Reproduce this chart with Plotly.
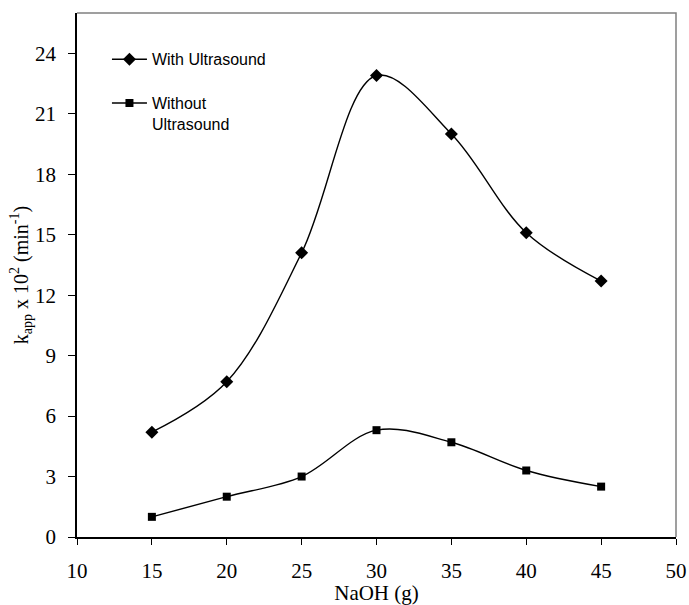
import plotly.graph_objects as go

naoh = [15, 20, 25, 30, 35, 40, 45]
with_us = [5.2, 7.7, 14.1, 22.9, 20.0, 15.1, 12.7]
without_us = [1.0, 2.0, 3.0, 5.3, 4.7, 3.3, 2.5]
x_ticks = [10, 15, 20, 25, 30, 35, 40, 45, 50]
y_ticks = [0, 3, 6, 9, 12, 15, 18, 21, 24]

SERIF = "Liberation Serif, Times New Roman"

fig = go.Figure()
fig.add_trace(go.Scatter(
    x=naoh, y=with_us, name="With Ultrasound", mode="lines+markers",
    line=dict(color="black", width=1.4, shape="spline", smoothing=1),
    marker=dict(symbol="diamond", size=10, color="black"),
    legendgroup="a"))
fig.add_trace(go.Scatter(
    x=naoh, y=without_us, name="Without<br>Ultrasound", mode="lines+markers",
    line=dict(color="black", width=1.4, shape="spline", smoothing=1),
    marker=dict(symbol="square", size=8, color="black"),
    legendgroup="b"))

fig.update_layout(
    width=689, height=605,
    margin=dict(l=77, r=13, t=13, b=68),
    paper_bgcolor="white", plot_bgcolor="white",
    showlegend=True,
    legend=dict(x=0.05, y=0.944, xanchor="left", yanchor="top",
                bgcolor="rgba(0,0,0,0)", traceorder="grouped", tracegroupgap=20,
                valign="top", itemwidth=35,
                font=dict(family="Liberation Sans, Arial", size=16, color="black")),
    font=dict(family=SERIF, color="black"),
    shapes=[dict(type="path", xref="paper", yref="paper",
                 path="M 0,1 L 1,1 L 1,0", line=dict(color="#808080", width=1.5))],
)
fig.update_xaxes(
    range=[10, 50], tickvals=x_ticks, ticktext=[str(v) for v in x_ticks],
    showgrid=False, zeroline=False, showline=True, linecolor="black", linewidth=1.5,
    ticks="outside", ticklen=6, tickcolor="black", tickwidth=1.2,
    ticklabelstandoff=8, automargin=False,
    tickfont=dict(size=21, family=SERIF),
    title=dict(text="NaOH (g)", font=dict(size=21, family=SERIF), standoff=6),
)
fig.update_yaxes(
    range=[0, 26], tickvals=y_ticks, ticktext=[str(v) for v in y_ticks],
    showgrid=False, zeroline=False, showline=True, linecolor="black", linewidth=1.5,
    ticks="outside", ticklen=7, tickcolor="black", tickwidth=1.2,
    ticklabelstandoff=8, automargin=False,
    tickfont=dict(size=21, family=SERIF),
    title=dict(text="k<sub>app</sub> x 10<sup>2</sup> (min<sup>-1</sup>)",
               font=dict(size=20, family=SERIF), standoff=0),
)
fig.write_html("out.html")
